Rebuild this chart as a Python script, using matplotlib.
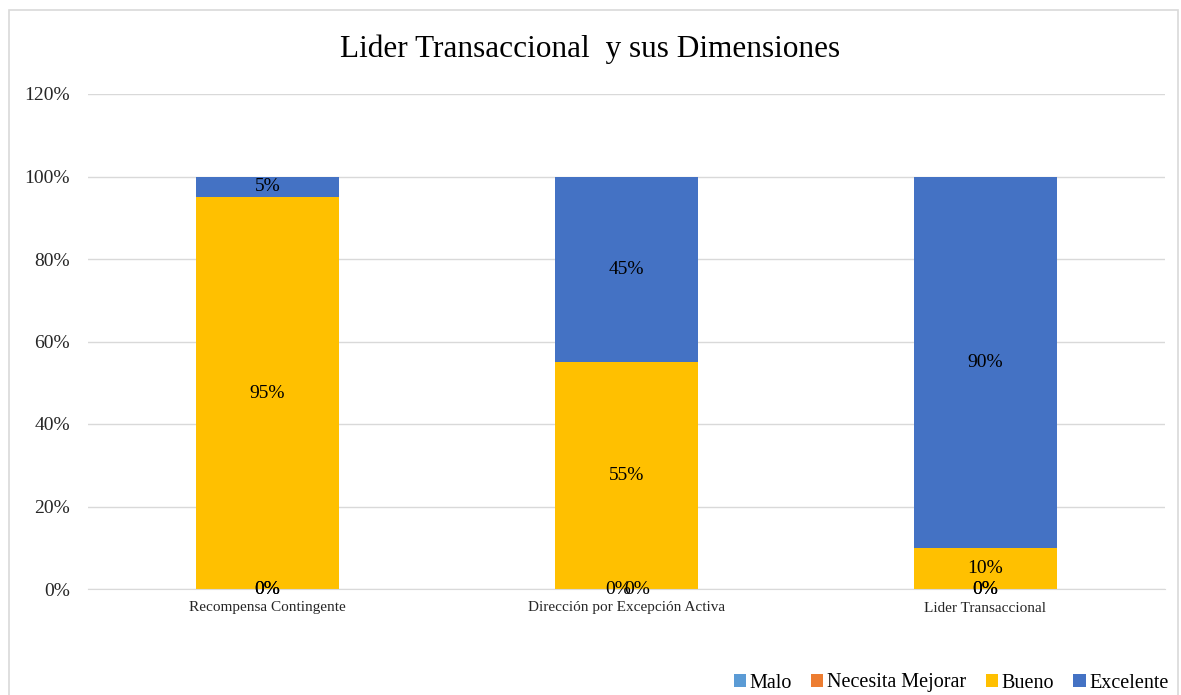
import matplotlib.pyplot as plt
from matplotlib.patches import Rectangle
import numpy as np

plt.rcParams["font.family"] = ["Liberation Serif", "DejaVu Serif"]

categories = ["Recompensa Contingente", "Dirección por Excepción Activa", "Lider Transaccional"]
series_names = ["Malo", "Necesita Mejorar", "Bueno", "Excelente"]
malo = [0, 0, 0]
necesita = [0, 0, 0]
bueno = [95, 55, 10]
excelente = [5, 45, 90]
colors = ["#5B9BD5", "#ED7D31", "#FFC000", "#4472C4"]

W, H = 1181, 695
fig = plt.figure(figsize=(W / 100, H / 100), dpi=100)
ax = fig.add_axes([88 / W, 1 - 589 / H, (1165 - 88) / W, (589 - 94) / H])

# chart border
fig.patches.append(Rectangle((9 / W, -0.05), (1178 - 9) / W, 1 - 10 / H + 0.05,
                             transform=fig.transFigure, fill=False,
                             edgecolor="#D9D9D9", linewidth=1.2))

x = np.arange(len(categories))
bottom = np.zeros(len(categories))
all_series = [malo, necesita, bueno, excelente]
for name, vals, color in zip(series_names, all_series, colors):
	vals = np.array(vals, dtype=float)
	ax.bar(x, vals, 0.4, bottom=bottom, color=color, label=name, zorder=2)
	for i, v in enumerate(vals):
		dx = 0
		if v == 0 and i == 1:
			dx = -6 if name == "Malo" else 8
		ax.annotate(f"{v:.0f}%", (x[i], bottom[i] + v / 2), xytext=(dx, 0),
		            textcoords="offset points", ha="center", va="center",
		            fontsize=14, color="#000000", zorder=3)
	bottom += vals

ax.set_xlim(-0.5, 2.5)
ax.set_ylim(0, 120)
ax.set_yticks(np.arange(0, 121, 20))
ax.set_yticklabels([f"{t}%" for t in range(0, 121, 20)], fontsize=14, color="#262626")
ax.set_xticks(x)
ax.set_xticklabels(categories, fontsize=11, color="#262626")
ax.tick_params(length=0)
ax.tick_params(axis="x", pad=9)
ax.tick_params(axis="y", pad=13)
ax.grid(axis="y", color="#D9D9D9", linewidth=1, zorder=0)
for s in ["top", "right", "left"]:
	ax.spines[s].set_visible(False)
ax.spines["bottom"].set_color("#D9D9D9")

fig.text(0.5, 1 - 49 / H, "Lider Transaccional  y sus Dimensiones", ha="center", va="center",
         fontsize=22.5, color="#000000")

fig.legend(loc="center right", bbox_to_anchor=(1177 / W, 1 - 683 / H), ncol=4,
           frameon=False, fontsize=14.5, handlelength=0.6, handleheight=0.6,
           handletextpad=0.2, columnspacing=0.95, borderaxespad=0)

fig.savefig("out.png", dpi=100)
